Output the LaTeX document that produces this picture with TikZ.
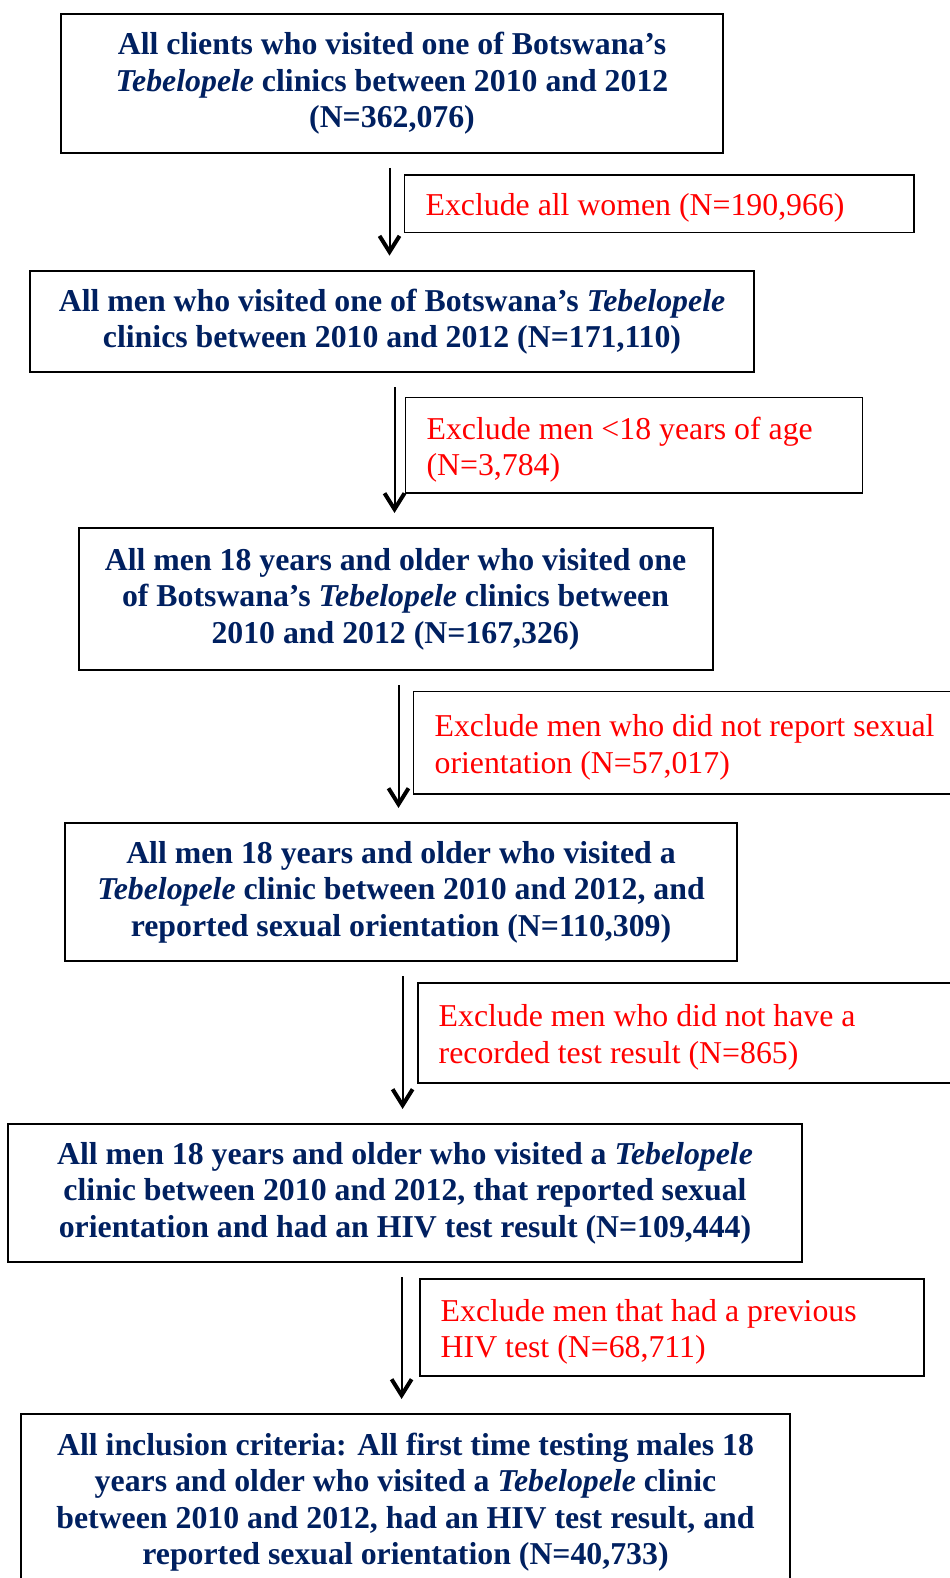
\documentclass[tikz,border=0pt]{standalone}
\usepackage[rgb]{xcolor}
\usepackage{fontspec}
\setmainfont{Liberation Serif}
\usepackage{tikz}
\usetikzlibrary{arrows.meta}
\definecolor{navytext}{RGB}{0,32,96}

\begin{document}
\begin{tikzpicture}[x=0.5pt, y=-0.5pt, inner sep=0, outer sep=0,
    mainbox/.style={draw, line width=1pt, text=navytext, align=center,
      font=\fontsize{15.9}{18.25}\selectfont\bfseries},
    exclbox/.style={draw, line width=0.8pt, text=red, align=flush left, anchor=north west,
      inner xsep=10.5pt, inner ysep=0pt, font=\fontsize{15.9}{18.25}\selectfont,
      execute at begin node={\rule{0pt}{15.5pt}}},
    arrowline/.style={line width=1pt, -{Straight Barb[length=8pt,width=10pt,line width=2pt]},
      shorten <=7.5pt, shorten >=7.5pt}]
    % rand
    \useasboundingbox (0,0) rectangle (949,1578);
    % hoofdvakken
    \node[mainbox, minimum width=330.6pt, minimum height=69.5pt] (b1) at (392,83.5)
      {All clients who visited one of Botswana’s\\ \textit{Tebelopele} clinics between 2010 and 2012\\ (N=362,076)};
    \node[mainbox, minimum width=361.8pt, minimum height=50.85pt] (b2) at (392,321.5)
      {All men who visited one of Botswana’s \textit{Tebelopele}\\ clinics between 2010 and 2012 (N=171,110)};
    \node[mainbox, minimum width=317pt, minimum height=71pt] (b3) at (395.5,599)
      {All men 18 years and older who visited one\\ of Botswana’s \textit{Tebelopele} clinics between\\ 2010 and 2012 (N=167,326)};
    \node[mainbox, minimum width=335.6pt, minimum height=69pt] (b4) at (401,892)
      {All men 18 years and older who visited a\\ \textit{Tebelopele} clinic between 2010 and 2012, and\\ reported sexual orientation (N=110,309)};
    \node[mainbox, minimum width=397pt, minimum height=69pt] (b5) at (405,1193)
      {All men 18 years and older who visited a \textit{Tebelopele}\\ clinic between 2010 and 2012, that reported sexual\\ orientation and had an HIV test result (N=109,444)};
    \node[mainbox, minimum width=384.5pt, minimum height=88pt] (b6) at (405.5,1502)
      {All inclusion criteria: All first time testing males 18\\ years and older who visited a \textit{Tebelopele} clinic\\ between 2010 and 2012, had an HIV test result, and\\ reported sexual orientation (N=40,733)};
    % uitsluitingen
    \node[exclbox, text width=233.6pt, minimum height=28.75pt] (e1) at (404.6,175)
      {Exclude all women (N=190,966)};
    \node[exclbox, text width=207.45pt, minimum height=47.75pt] (e2) at (405.6,397.5)
      {Exclude men <18 years of age\\ (N=3,784)};
    \node[exclbox, text width=259pt, minimum height=51.3pt] (e3) at (413.6,691.4)
      {Exclude men who did not report sexual\\ orientation (N=57,017)};
    \node[exclbox, text width=259pt, minimum height=50pt] (e4) at (417.7,983)
      {Exclude men who did not have a\\ recorded test result (N=865)};
    \node[exclbox, text width=231.1pt, minimum height=48.5pt] (e5) at (419.7,1279)
      {Exclude men that had a previous\\ HIV test (N=68,711)};
    % pijlen
    \coordinate (a1) at (389.5,0);
    \coordinate (a2) at (394.5,0);
    \coordinate (a3) at (398.5,0);
    \coordinate (a4) at (402.6,0);
    \coordinate (a5) at (401.6,0);
    \draw[arrowline] (b1.south -| a1) -- (b2.north -| a1);
    \draw[arrowline] (b2.south -| a2) -- (b3.north -| a2);
    \draw[arrowline] (b3.south -| a3) -- (b4.north -| a3);
    \draw[arrowline] (b4.south -| a4) -- (b5.north -| a4);
    \draw[arrowline] (b5.south -| a5) -- (b6.north -| a5);
\end{tikzpicture}
\end{document}
